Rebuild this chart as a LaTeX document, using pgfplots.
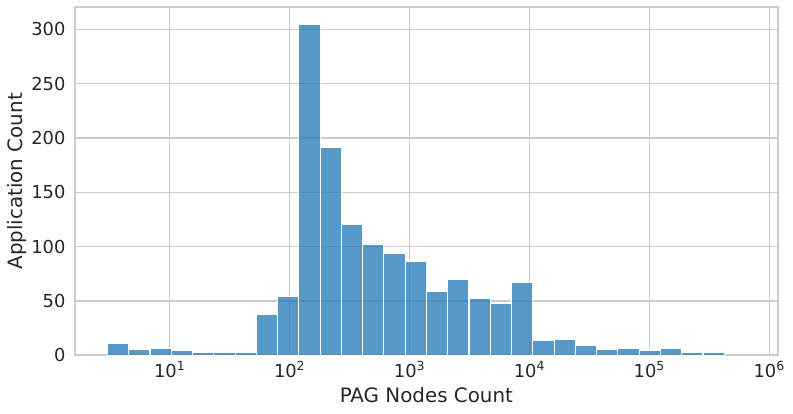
\documentclass[border=0pt]{standalone}
\usepackage{fontspec}
\setmainfont{DejaVu Sans}
\usepackage{pgfplots}
\pgfplotsset{compat=1.18}

\newlength\px
\setlength\px{0.75pt}
\definecolor{sbblue}{HTML}{1F77B4}
\definecolor{gridgray}{HTML}{CCCCCC}
\definecolor{txt}{HTML}{262626}
\newcommand\dec[1]{10\textsuperscript{#1}}

\begin{document}
\begin{tikzpicture}
\begin{axis}[
  name=ax,
  scale only axis,
  width=702.7\px, height=348\px,
  xmode=log,
  xmin=1.62, xmax=1175000,
  ymin=0, ymax=320.2,
  xtick={10,100,1000,10000,100000,1000000},
  xticklabels={\dec{1},\dec{2},\dec{3},\dec{4},\dec{5},\dec{6}},
  ytick={0,50,...,300},
  xminorticks=false,
  grid=major,
  major grid style={gridgray, line width=1pt},
  axis line style={gridgray, line width=1.3pt},
  major tick length=0pt,
  tick label style={font=\fontsize{13.4}{16}\selectfont, text=txt},
  /pgf/number format/assume math mode=true,
  xticklabel style={anchor=base, inner sep=0pt, yshift=-22.4\px},
  yticklabel style={anchor=east, inner sep=0pt, xshift=-9.3\px},
  label style={font=\fontsize{14.9}{18}\selectfont, text=txt},
  xlabel={PAG Nodes Count},
  ylabel={Application Count},
  xlabel style={at={(axis description cs:0.5,-0.135)}, anchor=base, inner sep=0pt},
  ylabel style={at={(axis description cs:-0.069,0.5)}, anchor=south, inner sep=0pt},
]
% histogram, log-spaced bin edges; last row closes the final bin
\addplot[ybar interval, fill=sbblue, fill opacity=0.75, draw=white, line width=0.8pt]
coordinates {
(3.020,11) (4.544,5) (6.836,6) (10.285,4) (15.474,3) (23.28,3) (35.03,3)
(52.70,38) (79.28,54) (119.28,304) (179.45,191) (269.99,120) (406.2,102)
(611.1,94) (919.4,86) (1383.2,59) (2081.1,70) (3131,52) (4710.5,48)
(7087,67) (10662,14) (16041,15) (24134,9) (36310,5) (54628,6) (82188,4)
(123650,6) (186030,3) (279880,3) (421080,3)
};
\end{axis}
\pgfresetboundingbox
\path (ax.south west) ++(-75\px,-58.7\px) rectangle ([xshift=15.3\px,yshift=7.3\px]ax.north east);
\end{tikzpicture}
\end{document}
